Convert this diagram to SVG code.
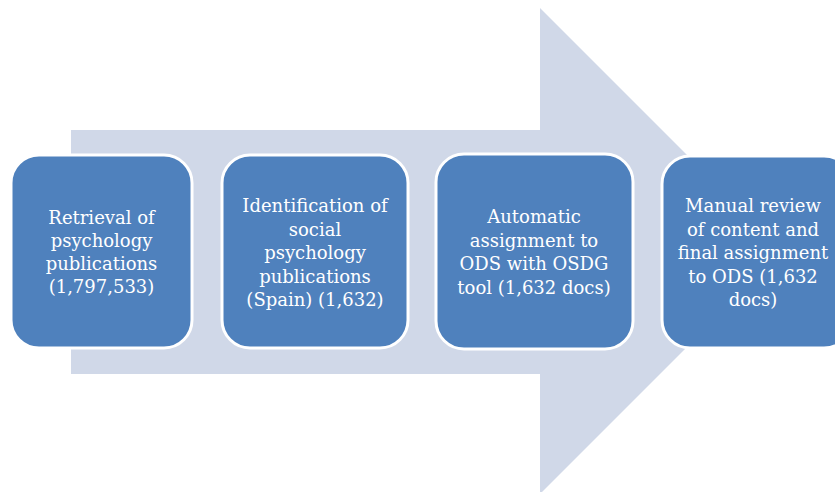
<svg xmlns="http://www.w3.org/2000/svg" width="835" height="492" viewBox="0 0 835 492">
<style>
.box{fill:#4f81bd;stroke:#ffffff;stroke-width:3}
.t{font-family:"DejaVu Serif","Liberation Serif",serif;font-size:18px;fill:#ffffff;text-anchor:middle}
</style>
<rect width="835" height="492" fill="#ffffff"/>
<g id="connectors">
<polygon points="71,130 540,130 540,8 783,251 540,494 540,374 71,374" fill="#d0d8e8"/>
</g>
<g id="n1">
<rect class="box" x="11" y="155" width="181" height="193" rx="28"/>
<text class="t"><tspan x="101.5" y="224">Retrieval of</tspan><tspan x="101.5" y="247">psychology</tspan><tspan x="101.5" y="270">publications</tspan><tspan x="101.5" y="293">(1,797,533)</tspan></text>
</g>
<g id="n2">
<rect class="box" x="222" y="155" width="186" height="193" rx="28"/>
<text class="t"><tspan x="315" y="212">Identification of</tspan><tspan x="315" y="235.5">social</tspan><tspan x="315" y="259">psychology</tspan><tspan x="315" y="282.5">publications</tspan><tspan x="315" y="306">(Spain) (1,632)</tspan></text>
</g>
<g id="n3">
<rect class="box" x="436" y="154" width="197" height="195" rx="28"/>
<text class="t"><tspan x="534" y="223">Automatic</tspan><tspan x="534" y="246.5">assignment to</tspan><tspan x="534" y="270">ODS with OSDG</tspan><tspan x="534" y="293.5">tool (1,632 docs)</tspan></text>
</g>
<g id="n4">
<rect class="box" x="662" y="156" width="190" height="192" rx="28"/>
<text class="t"><tspan x="753" y="212">Manual review</tspan><tspan x="753" y="235.5">of content and</tspan><tspan x="753" y="259">final assignment</tspan><tspan x="753" y="282.5">to ODS (1,632</tspan><tspan x="753" y="306">docs)</tspan></text>
</g>
</svg>
